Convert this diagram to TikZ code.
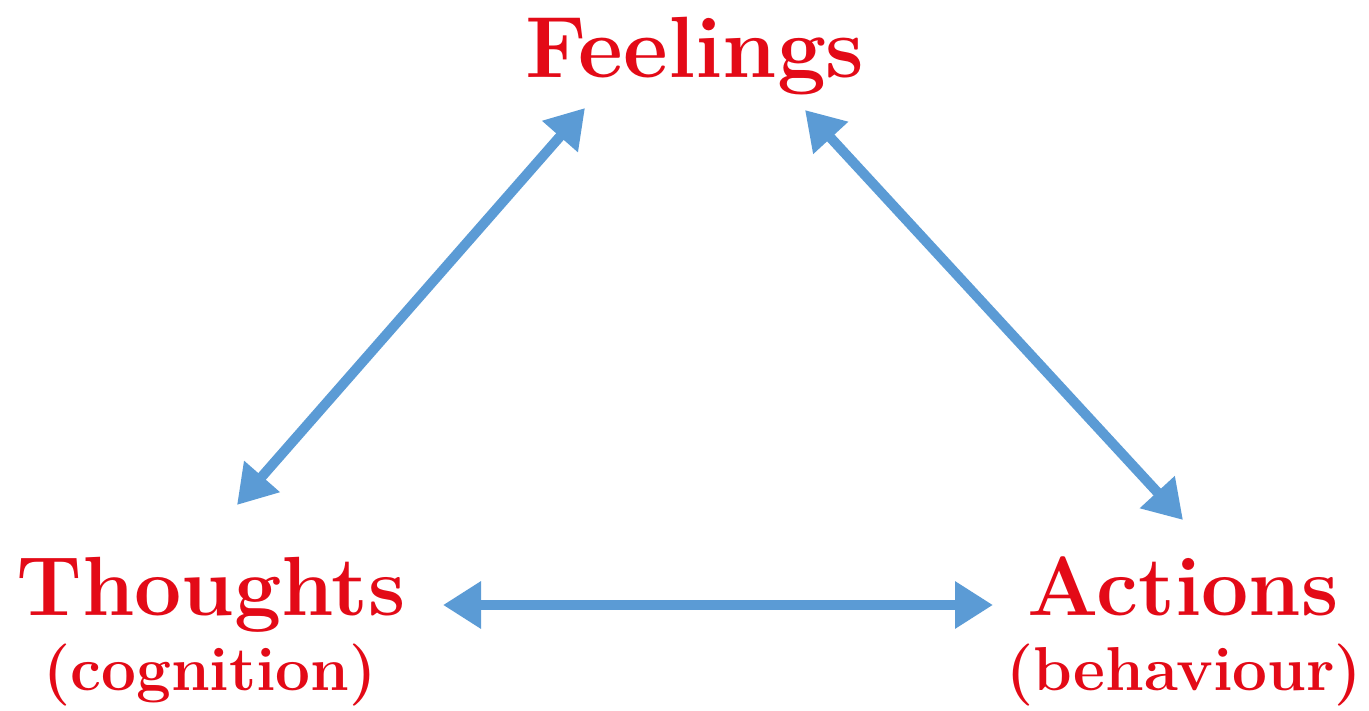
\documentclass[tikz,border=0pt]{standalone}
\usetikzlibrary{arrows.meta}
\definecolor{lblred}{HTML}{E30A17}
\definecolor{arrblue}{HTML}{5B9BD5}
\begin{document}
\begin{tikzpicture}[x=1pt,y=-1pt,
  big/.style={text=lblred,font=\fontsize{84}{86}\selectfont\bfseries,inner sep=0pt,anchor=base},
  small/.style={text=lblred,font=\fontsize{62}{64}\selectfont\bfseries,inner sep=0pt,anchor=base},
  link/.style={draw=arrblue,line width=10pt,{Triangle[length=38pt,width=45pt]}-{Triangle[length=38pt,width=45pt]}}]
\path[use as bounding box] (0,0) rectangle (1369,711);
\node[big,font=\fontsize{87}{89}\selectfont\bfseries] (feel) at (695,78) {Feelings};
\node[big] (thou) at (211,615) {Thoughts};
\node[small] (cogn) at (210,690) {(cognition)};
\node[big] (act) at (1183,615) {Actions};
\node[small] (beh) at (1184,690) {(behaviour)};
\coordinate (tl) at (237,505);
\coordinate (ft) at (585,108);
\coordinate (fr) at (805,110);
\coordinate (ar) at (1183,520);
\coordinate (th) at (443,605);
\coordinate (ah) at (993,605);
\draw[link] (tl) -- (ft);
\draw[link] (fr) -- (ar);
\draw[link] (th) -- (ah);
\end{tikzpicture}
\end{document}
